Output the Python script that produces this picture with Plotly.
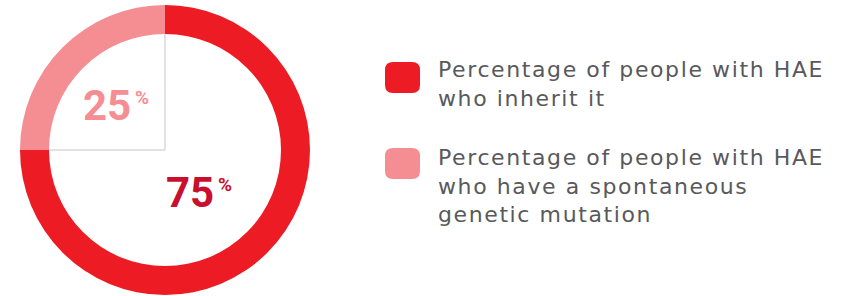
import plotly.graph_objects as go

# ---- data ----
labels = ["Percentage of people with HAE<br>who inherit it",
          "Percentage of people with HAE<br>who have a spontaneous<br>genetic mutation"]
values = [75, 25]
value_text = ["75", "25"]
colors = ["#ED1C24", "#F58E93"]
text_colors = ["#C8102E", "#F58E93"]

W, H = 849, 296
cx, cy, R = 165, 150, 145
hole = 0.80

fig = go.Figure()
fig.add_trace(go.Pie(
    values=values, labels=labels, hole=hole, sort=False, direction="clockwise",
    rotation=0, textinfo="none", hoverinfo="label+percent",
    marker=dict(colors=colors, line=dict(width=0)),
    domain=dict(x=[(cx - R) / W, (cx + R) / W], y=[1 - (cy + R) / H, 1 - (cy - R) / H]),
    showlegend=False,
))

# invisible pixel-coordinate axes for decorations
fig.add_trace(go.Scatter(x=[0, W], y=[0, H], mode="markers", marker=dict(opacity=0),
                         hoverinfo="skip", showlegend=False))

rin = R * hole
shapes = [
    dict(type="line", x0=cx, y0=cy - rin, x1=cx, y1=cy, line=dict(color="#D9D9D9", width=1.5)),
    dict(type="line", x0=cx - rin, y0=cy, x1=cx, y1=cy, line=dict(color="#D9D9D9", width=1.5)),
]

def rrect(x0, y0, x1, y1, r):
    return (f"M{x0+r},{y0} L{x1-r},{y0} Q{x1},{y0} {x1},{y0+r} L{x1},{y1-r} Q{x1},{y1} {x1-r},{y1} "
            f"L{x0+r},{y1} Q{x0},{y1} {x0},{y1-r} L{x0},{y0+r} Q{x0},{y0} {x0+r},{y0} Z")

annotations = []
leg_sq_y = [62, 148]
leg_txt_y = [84, 186]
for i, lab in enumerate(labels):
    y0 = leg_sq_y[i]
    shapes.append(dict(type="path", path=rrect(385, y0, 420, y0 + 31, 8),
                       fillcolor=colors[i], line=dict(width=0)))
    styled = "<br>".join(f"<span style='letter-spacing:1.6px'>{ln}</span>" for ln in lab.split("<br>"))
    annotations.append(dict(x=436, y=leg_txt_y[i], xref="x", yref="y", text=styled,
                            xanchor="left", yanchor="middle", align="left", showarrow=False,
                            font=dict(family="DejaVu Sans", size=22, color="#58595B")))

# percentage labels
num_pos = [(190, 192), (107, 105)]
for i, v in enumerate(value_text):
    x, y = num_pos[i]
    annotations.append(dict(x=x, y=y, xref="x", yref="y", text=f"<b>{v}</b>",
                            xanchor="center", yanchor="middle", showarrow=False,
                            font=dict(family="Roboto", size=42, color=text_colors[i])))
    annotations.append(dict(x=x + 26, y=y - 8, xref="x", yref="y", text="<b>%</b>",
                            xanchor="left", yanchor="middle", showarrow=False,
                            font=dict(family="Roboto", size=19, color=text_colors[i])))

fig.update_layout(
    width=W, height=H, margin=dict(l=0, r=0, t=0, b=0),
    paper_bgcolor="white", plot_bgcolor="rgba(0,0,0,0)",
    xaxis=dict(range=[0, W], visible=False, fixedrange=True, domain=[0, 1]),
    yaxis=dict(range=[H, 0], visible=False, fixedrange=True, domain=[0, 1]),
    shapes=shapes, annotations=annotations, showlegend=False,
)
fig.write_html("out.html", config={"displayModeBar": False},
               post_script="document.body.style.margin='0';")
